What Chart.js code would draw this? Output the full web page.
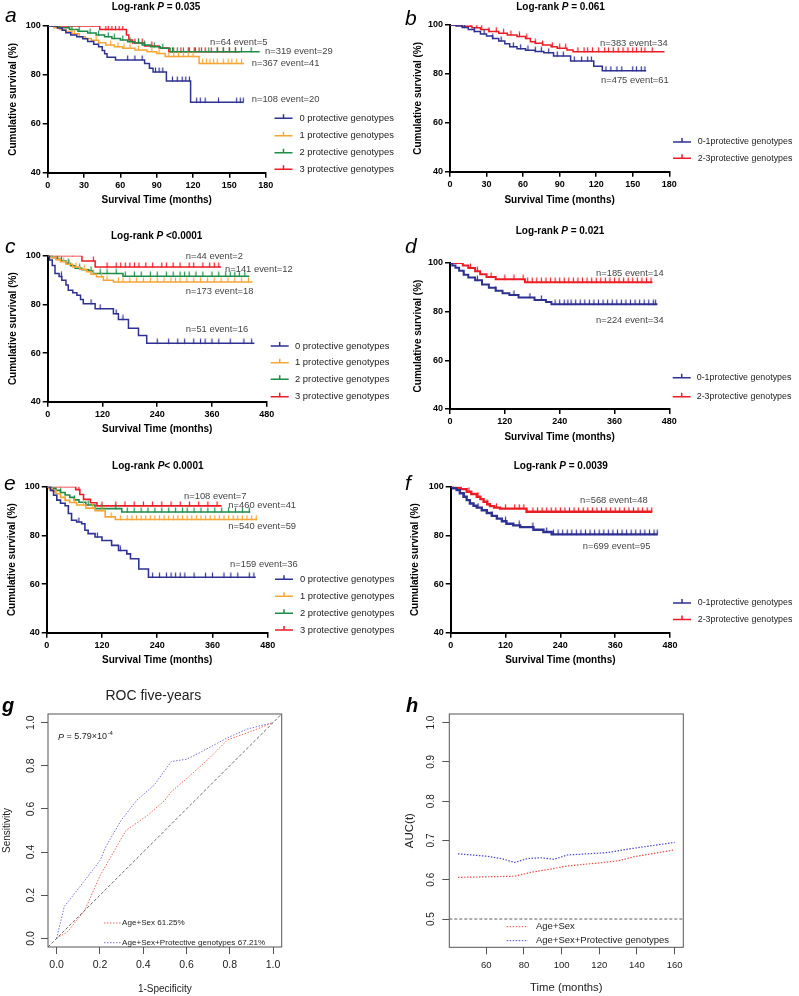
<!DOCTYPE html>
<html>
<head>
<meta charset="utf-8">
<script src="https://cdn.jsdelivr.net/npm/chart.js@4.4.1/dist/chart.umd.min.js"></script>
<style>
body { margin: 0; background: #fff; }
#page { position: relative; width: 799px; height: 996px; overflow: hidden; background: #fff; }
canvas { position: absolute; }
</style>
</head>
<body>
<div id="page">
  <canvas id="ca" width="400" height="212" style="left:0;top:0"></canvas>
  <canvas id="cb" width="399" height="212" style="left:400px;top:0"></canvas>
  <canvas id="cc" width="400" height="216" style="left:0;top:225px"></canvas>
  <canvas id="cd" width="399" height="224" style="left:400px;top:225px"></canvas>
  <canvas id="ce" width="400" height="217" style="left:0;top:455px"></canvas>
  <canvas id="cf" width="399" height="217" style="left:400px;top:455px"></canvas>
  <canvas id="cg" width="400" height="316" style="left:0;top:680px"></canvas>
  <canvas id="ch" width="399" height="316" style="left:400px;top:680px"></canvas>
</div>
<script>
// ---- legend names ----
var groups4 = ['0 protective genotypes', '1 protective genotypes', '2 protective genotypes', '3 protective genotypes'];
var groups2 = ['0-1protective genotypes', '2-3protective genotypes'];

// ---- panel a (months 0-180) ----
var aT0 = [0, 8, 12, 15, 19, 24, 29, 33, 38, 42, 45, 47, 49, 56, 80, 84, 87, 98, 118];
var aS0 = [100, 99.2, 98.3, 97.2, 96.3, 95.6, 94.8, 93.7, 92.5, 91.5, 90, 88.7, 87.2, 86.1, 84.7, 82.7, 81.2, 77.5, 68.8];
var aC0 = [66, 72, 78, 89, 92, 95, 103, 107, 111, 114, 117, 123, 126, 130, 141, 156, 159, 161.5];
var aT1 = [0, 5, 10, 15, 20, 26, 31, 36, 42, 48, 55, 62, 72, 82, 90, 97, 125];
var aS1 = [100, 99.3, 98.6, 97.7, 96.8, 95.6, 94.9, 94.2, 93.2, 92.2, 91.5, 90.9, 90.2, 89.5, 88.8, 87.5, 84.7];
var aC1 = [8, 22, 40, 52, 58, 63, 68, 75, 86, 92, 100, 104, 108, 112, 116, 120, 128, 131, 134, 137, 140, 145, 149, 152, 156, 160];
var aT2 = [0, 10, 18, 25, 33, 40, 47, 53, 60, 66, 72, 78, 85, 93, 101];
var aS2 = [100, 99.3, 98.6, 97.9, 97.1, 96.3, 95.6, 94.9, 94.3, 93.6, 93, 92.2, 91.5, 90.9, 89.5];
var aC2 = [17, 20, 26, 35, 42, 50, 55, 62, 68, 75, 80, 88, 95, 103, 107, 112, 117, 122, 127, 133, 140, 145, 150, 155, 160, 168];
var aT3 = [0, 43, 65, 67, 70, 80, 92, 100];
var aS3 = [100, 98.6, 96.3, 94.3, 93, 91.8, 91, 89.5];
var aC3 = [37, 48, 50, 53, 56, 59, 62, 72, 75, 78, 86, 104, 110, 116, 121, 125, 130, 135, 140, 145, 150, 155];
var aEnd = [161.5, 162, 175, 159];
var aLabels = ['n=108 event=20', 'n=367 event=41', 'n=319 event=29', 'n=64 event=5'];

// ---- panel b ----
var bT0 = [0, 5, 10, 15, 20, 25, 30, 35, 40, 45, 49, 55, 62, 70, 77, 85, 99, 118, 125];
var bS0 = [100, 99.6, 99, 98.2, 97.3, 96.3, 95.5, 94.5, 93.5, 92.3, 91.1, 90.3, 89.7, 89.2, 88.6, 87.3, 85.3, 83.1, 81.3];
var bC0 = [6, 12, 20, 28, 35, 42, 52, 58, 64, 70, 75, 81, 88, 93, 102, 108, 113, 116, 128, 132, 137, 141, 150, 153, 157, 160];
var bT1 = [0, 10, 18, 25, 32, 40, 47, 55, 62, 66, 70, 76, 83, 88, 96, 101];
var bS1 = [100, 99.5, 98.9, 98.2, 97.3, 96.6, 95.9, 95.3, 94.5, 93.2, 92.5, 91.8, 91.1, 90.5, 89.8, 89.1];
var bC1 = [5, 10, 17, 22, 26, 32, 38, 44, 50, 57, 63, 70, 76, 84, 90, 95, 105, 110, 113, 117, 122, 127, 130, 134, 138, 142, 146, 150, 153, 157, 160, 166];
var bEnd = [161, 176];
var bLabels = ['n=475 event=61', 'n=383 event=34'];

// ---- panel c (months 0-480) ----
var cT0 = [0, 4, 10, 16, 25, 31, 40, 45, 55, 64, 72, 78, 104, 144, 155, 177, 199, 217];
var cS0 = [100, 98.2, 96, 92.7, 91.5, 89.9, 88, 85.8, 84.8, 83.7, 82, 80.3, 78.2, 76.1, 73.8, 70.2, 67.2, 64];
var cC0 = [30, 95, 115, 150, 165, 240, 265, 285, 300, 320, 335, 345, 360, 375, 400, 430, 447];
var cT1 = [0, 8, 18, 28, 40, 55, 70, 85, 95, 107, 122, 144];
var cS1 = [100, 99.2, 98.3, 97.5, 96.5, 95.4, 94.4, 93.4, 92.4, 91.3, 89.9, 89.2];
var cC1 = [12, 25, 35, 48, 62, 80, 100, 118, 130, 155, 165, 180, 195, 210, 225, 240, 255, 270, 280, 290, 305, 320, 335, 350, 365, 380, 395, 410, 425, 440];
var cT2 = [0, 10, 20, 30, 40, 50, 60, 75, 90, 100, 165];
var cS2 = [100, 99.3, 98.5, 97.8, 96.9, 95.9, 94.8, 94.2, 93.7, 92.7, 91.6];
var cC2 = [22, 30, 45, 70, 95, 115, 130, 150, 170, 190, 205, 225, 240, 260, 275, 290, 300, 310, 325, 340, 360, 375, 390, 400, 410, 420, 432];
var cT3 = [0, 75, 104];
var cS3 = [100, 97.8, 95.4];
var cC3 = [55, 100, 130, 150, 160, 170, 180, 190, 200, 215, 230, 250, 260, 275, 290, 310, 320, 340, 355, 365, 375];
var cEnd = [453, 449, 442, 380];
var cLabels = ['n=51 event=16', 'n=173 event=18', 'n=141 event=12', 'n=44 event=2'];

// ---- panel d ----
var dT0 = [0, 5, 12, 20, 30, 40, 55, 70, 85, 100, 115, 130, 150, 185, 210, 222];
var dS0 = [100, 99, 98, 96.8, 95.2, 94, 92.9, 91.2, 89.8, 88.6, 87.6, 86.8, 85.8, 84.8, 84, 83];
var dC0 = [30, 60, 100, 140, 175, 200, 230, 240, 250, 258, 265, 275, 285, 295, 305, 315, 325, 335, 345, 355, 365, 375, 385, 395, 405, 415, 425, 435, 445, 450];
var dT1 = [0, 28, 40, 55, 66, 80, 100, 164];
var dS1 = [100, 99, 97.9, 96.6, 95.4, 94.2, 93.3, 92.1];
var dC1 = [25, 45, 60, 90, 120, 140, 160, 170, 180, 190, 200, 210, 220, 230, 240, 250, 260, 270, 280, 290, 300, 310, 320, 330, 340, 350, 360, 370, 380, 390, 400, 410, 420, 430, 440];
var dEnd = [454, 443];
var dLabels = ['n=224 event=34', 'n=185 event=14'];

// ---- panel e ----
var eT0 = [0, 8, 15, 22, 30, 40, 47, 54, 65, 76, 83, 90, 105, 120, 141, 156, 174, 182, 200, 221];
var eS0 = [100, 98.5, 96.5, 94.5, 93.2, 92.2, 89, 86.2, 85.5, 84.8, 82.1, 80.7, 79.3, 77.9, 75.9, 73.8, 72.4, 70.4, 66.2, 62.8];
var eC0 = [70, 110, 160, 230, 245, 260, 270, 280, 290, 300, 320, 345, 360, 385, 400, 415, 440, 450];
var eT1 = [0, 5, 12, 20, 30, 40, 50, 65, 85, 105, 127, 149];
var eS1 = [100, 99.2, 98.2, 97.1, 95.6, 94.4, 93.5, 92.5, 91.2, 90.1, 87.6, 86.5];
var eC1 = [20, 40, 60, 80, 100, 120, 140, 160, 175, 185, 195, 205, 215, 225, 235, 245, 255, 265, 275, 285, 295, 305, 315, 325, 335, 345, 355, 365, 375, 385, 395, 405, 415, 425, 435, 445, 455];
var eT2 = [0, 10, 20, 30, 40, 50, 60, 70, 85, 105, 163];
var eS2 = [100, 99.3, 98.5, 97.6, 96.6, 95.6, 94.6, 93.6, 92.5, 91, 89.6];
var eC2 = [30, 60, 90, 120, 150, 175, 190, 205, 220, 235, 250, 265, 280, 295, 305, 320, 335, 350, 365, 380, 395, 410, 425, 440];
var eT3 = [0, 63, 72, 80, 95, 109];
var eS3 = [100, 98.8, 96.8, 94.8, 93.4, 92.1];
var eC3 = [30, 70, 120, 150, 170, 190, 210, 230, 250, 270, 290, 310, 330, 350, 370];
var eEnd = [454, 457, 442, 380];
var eLabels = ['n=159 event=36', 'n=540 event=59', 'n=460 event=41', 'n=108 event=7'];

// ---- panel f ----
var fT0 = [0, 5, 13, 20, 28, 35, 42, 50, 57, 68, 79, 90, 101, 112, 122, 137, 152, 181, 203, 221];
var fS0 = [100, 99.3, 98.6, 97.3, 95.9, 94.5, 93.1, 92.2, 91.4, 90.3, 89.2, 88, 86.9, 85.8, 84.8, 84.1, 83.4, 82.3, 81.4, 80.4];
var fC0 = [30, 60, 90, 120, 150, 180, 210, 225, 235, 245, 255, 265, 275, 285, 295, 305, 315, 325, 335, 345, 355, 365, 375, 385, 395, 405, 415, 425, 435, 445, 452];
var fT1 = [0, 12, 22, 35, 45, 57, 65, 72, 80, 86, 95, 108, 166];
var fS1 = [100, 99.5, 99, 97.9, 97, 95.9, 94.9, 93.8, 92.8, 92, 91.4, 91, 89.7];
var fC1 = [20, 40, 60, 80, 100, 120, 140, 150, 160, 180, 190, 200, 210, 220, 230, 240, 250, 260, 270, 280, 290, 300, 310, 320, 330, 340, 350, 360, 370, 380, 390, 400, 410, 420, 430, 440];
var fEnd = [453, 441];
var fLabels = ['n=699 event=95', 'n=568 event=48'];

// ---- panel g: ROC five-years ----
var gRedX = [0, 0.05, 0.13, 0.2, 0.32, 0.42, 0.5, 0.53, 0.6, 0.7, 0.79, 0.9, 1];
var gRedY = [0, 0.03, 0.13, 0.29, 0.5, 0.57, 0.64, 0.68, 0.74, 0.83, 0.92, 0.96, 1];
var gBlueX = [0, 0.035, 0.1, 0.2, 0.23, 0.3, 0.37, 0.45, 0.53, 0.6, 0.66, 0.79, 0.88, 1];
var gBlueY = [0, 0.147, 0.23, 0.36, 0.43, 0.55, 0.64, 0.71, 0.82, 0.83, 0.86, 0.93, 0.97, 1];
var gDiag = [-0.04, 1.04];
var gTicks = [0, 0.2, 0.4, 0.6, 0.8, 1.0];
var gLegend = ['Age+Sex 61.25%', 'Age+Sex+Protective genotypes 67.21%'];

// ---- panel h: AUC(t) ----
var hRedT = [45, 75, 85, 95, 103, 120, 130, 138, 160];
var hRedV = [0.606, 0.609, 0.62, 0.628, 0.635, 0.643, 0.648, 0.658, 0.676];
var hBlueT = [45, 60, 68, 75, 82, 89, 96, 103, 124, 138, 160];
var hBlueV = [0.666, 0.66, 0.654, 0.644, 0.654, 0.656, 0.652, 0.663, 0.669, 0.68, 0.695];
var hRefT = [40.4, 164.6];
var hRefV = 0.5;
var hXTicks = [60, 80, 100, 120, 140, 160];
var hYTicks = [0.5, 0.6, 0.7, 0.8, 0.9, 1.0];
var hLegend = ['Age+Sex', 'Age+Sex+Protective genotypes'];

var FONT = "'Liberation Sans', Arial, sans-serif";
var C4 = ['#2e3192', '#f7a537', '#1c8c48', '#ed1c24'];
var C2 = ['#2e3192', '#ed1c24'];

function stepAt(T, S, t) {
    var v = S[0];
    for (var i = 0; i < T.length; i++) {
        if (T[i] <= t) v = S[i];
    }
    return v;
}

// censor mark: short tick pointing up from the curve
var tickCache = {};
function tickImg(color) {
    if (tickCache[color]) return tickCache[color];
    var c = document.createElement('canvas');
    c.width = 3; c.height = 10;
    var x = c.getContext('2d');
    x.strokeStyle = color; x.lineWidth = 1.2;
    x.beginPath(); x.moveTo(1.5, 0.5); x.lineTo(1.5, 5.5); x.stroke();
    tickCache[color] = c;
    return c;
}

function makeSeries(Ts, Ss, Cs, ends, colors, names, labels) {
    return Ts.map(function(T, i) {
        return {T: T, S: Ss[i], C: Cs[i], end: ends[i], color: colors[i], name: names[i], label: labels[i]};
    });
}

function kmDatasets(series, lw) {
    var ds = [];
    series.forEach(function(s) {
        var pts = s.T.map(function(t, i) { return {x: t, y: s.S[i]}; });
        pts.push({x: s.end, y: s.S[s.S.length - 1]});
        ds.push({data: pts, showLine: true, stepped: 'before', borderColor: s.color,
                 borderWidth: lw, pointRadius: 0, fill: false});
        ds.push({data: s.C.map(function(t) { return {x: t, y: stepAt(s.T, s.S, t)}; }),
                 showLine: false, pointStyle: tickImg(s.color), pointRadius: 3});
    });
    return ds;
}

function kmDecor(L, series) {
    return {
        id: 'kmDecor',
        afterDraw: function(chart) {
            var ctx = chart.ctx;
            ctx.save();
            ctx.translate(-L.cx, -L.cy);
            // Log-rank title with italic P
            var fonts = ['bold 10px ' + FONT, 'italic bold 10px ' + FONT, 'bold 10px ' + FONT];
            var w = L.title.map(function(p, i) { ctx.font = fonts[i]; return ctx.measureText(p).width; });
            var x = L.tx - (w[0] + w[1] + w[2]) / 2;
            ctx.fillStyle = '#000';
            ctx.textAlign = 'left';
            ctx.textBaseline = 'middle';
            L.title.forEach(function(p, i) { ctx.font = fonts[i]; ctx.fillText(p, x, L.ty); x += w[i]; });
            // panel letter
            ctx.font = 'italic 21px ' + FONT;
            ctx.textBaseline = 'alphabetic';
            ctx.fillText(L.letter, L.lx, L.ly);
            // legend + n labels
            ctx.textBaseline = 'middle';
            series.forEach(function(s, i) {
                var y = L.legY[i];
                ctx.strokeStyle = s.color;
                ctx.lineWidth = 1.5;
                ctx.beginPath();
                ctx.moveTo(L.legX, y); ctx.lineTo(L.legX + 18, y);
                ctx.moveTo(L.legX + 9, y); ctx.lineTo(L.legX + 9, y - 4);
                ctx.stroke();
                ctx.fillStyle = '#222';
                ctx.font = L.legFont + 'px ' + FONT;
                ctx.fillText(s.name, L.legT, y);
                ctx.fillStyle = '#444';
                ctx.font = '9.4px ' + FONT;
                ctx.fillText(s.label, L.labXY[i][0], L.labXY[i][1]);
            });
            ctx.restore();
        }
    };
}

function kmChart(id, L, series) {
    var yW = L.x0 - L.cx;
    var xH = L.cy + L.h - L.yBot;
    return new Chart(document.getElementById(id), {
        type: 'scatter',
        data: {datasets: kmDatasets(series, L.lw)},
        options: {
            responsive: false,
            animation: false,
            devicePixelRatio: 1,
            layout: {padding: {left: 0, top: L.yTop - L.cy, right: L.cx + L.w - L.x1, bottom: 0}},
            plugins: {legend: {display: false}, tooltip: {enabled: false}},
            scales: {
                x: {
                    type: 'linear', min: 0, max: L.xMax,
                    afterFit: function(s) { s.height = xH; },
                    ticks: {stepSize: L.xStep, color: '#000', padding: 2, maxRotation: 0,
                            font: {family: FONT, size: 9, weight: 'bold'}},
                    grid: {drawOnChartArea: false, color: '#000', lineWidth: 1.5, tickLength: 5},
                    border: {color: '#000', width: 2},
                    title: {display: true, text: 'Survival Time (months)', color: '#000',
                            font: {family: FONT, size: 10, weight: 'bold'}, padding: {top: 0, bottom: 6}}
                },
                y: {
                    type: 'linear', min: 40, max: 100,
                    afterFit: function(s) { s.width = yW; },
                    ticks: {stepSize: 20, color: '#000', padding: 2,
                            font: {family: FONT, size: 9, weight: 'bold'}},
                    grid: {drawOnChartArea: false, color: '#000', lineWidth: 1.5, tickLength: 5},
                    border: {color: '#000', width: 2},
                    title: {display: true, text: 'Cumulative survival (%)', color: '#000',
                            font: {family: FONT, size: 10, weight: 'bold'}, padding: {top: L.ytPad, bottom: 0}}
                }
            }
        },
        plugins: [kmDecor(L, series)]
    });
}

var LA = {cx: 0, cy: 0, w: 400, h: 212, x0: 47.7, x1: 265.7, yTop: 26, yBot: 172.7, xMax: 180, xStep: 30, lw: 1.5, ytPad: 7.5,
          title: ['Log-rank ', 'P', ' = 0.035'], tx: 156, ty: 7, letter: 'a', lx: 5, ly: 22,
          legX: 274.5, legT: 299.5, legY: [118.3, 135.7, 152.7, 169.3], legFont: 9.4,
          labXY: [[251.7, 99], [251.7, 63.3], [265, 51.7], [210, 42.7]]};
var LB = {cx: 400, cy: 0, w: 399, h: 212, x0: 450, x1: 669.3, yTop: 25, yBot: 171.7, xMax: 180, xStep: 30, lw: 1.5, ytPad: 12,
          title: ['Log-rank ', 'P', ' = 0.061'], tx: 560.5, ty: 7, letter: 'b', lx: 405, ly: 25,
          legX: 673, legT: 697.7, legY: [142, 158.3], legFont: 8.9,
          labXY: [[601, 80], [600, 43.3]]};
var LC = {cx: 0, cy: 225, w: 400, h: 216, x0: 47.7, x1: 266.7, yTop: 255.7, yBot: 401.7, xMax: 480, xStep: 120, lw: 1.5, ytPad: 7,
          title: ['Log-rank ', 'P', ' <0.0001'], tx: 156.7, ty: 236.7, letter: 'c', lx: 5, ly: 253,
          legX: 270.7, legT: 295, legY: [346, 362.7, 379.3, 396.7], legFont: 9.4,
          labXY: [[185.7, 329], [185.7, 291.7], [225, 269.3], [185.7, 256.7]]};
var LD = {cx: 400, cy: 225, w: 399, h: 224, x0: 450, x1: 669.3, yTop: 263, yBot: 409, xMax: 480, xStep: 120, lw: 2, ytPad: 12,
          title: ['Log-rank ', 'P', ' = 0.021'], tx: 560, ty: 231, letter: 'd', lx: 405, ly: 253,
          legX: 672.7, legT: 696.7, legY: [377.7, 396.7], legFont: 8.9,
          labXY: [[596, 320], [596, 273.3]]};
var LE = {cx: 0, cy: 455, w: 400, h: 217, x0: 46.7, x1: 267.7, yTop: 486.7, yBot: 632.7, xMax: 480, xStep: 120, lw: 1.6, ytPad: 6,
          title: ['Log-rank ', 'P', '< 0.0001'], tx: 157.8, ty: 466.7, letter: 'e', lx: 4, ly: 490,
          legX: 275, legT: 300, legY: [579.3, 596.3, 613.3, 630], legFont: 9.4,
          labXY: [[230, 564.3], [228.3, 526.7], [228.3, 505], [184, 496]]};
var LF = {cx: 400, cy: 455, w: 399, h: 217, x0: 450.7, x1: 670, yTop: 486.7, yBot: 632.7, xMax: 480, xStep: 120, lw: 2.4, ytPad: 9,
          title: ['Log-rank ', 'P', ' = 0.0039'], tx: 560.8, ty: 466.7, letter: 'f', lx: 405, ly: 490,
          legX: 673, legT: 697.7, legY: [603, 619.5], legFont: 8.9,
          labXY: [[582.7, 546.7], [580, 500]]};

kmChart('ca', LA, makeSeries([aT0, aT1, aT2, aT3], [aS0, aS1, aS2, aS3], [aC0, aC1, aC2, aC3], aEnd, C4, groups4, aLabels));
kmChart('cb', LB, makeSeries([bT0, bT1], [bS0, bS1], [bC0, bC1], bEnd, C2, groups2, bLabels));
kmChart('cc', LC, makeSeries([cT0, cT1, cT2, cT3], [cS0, cS1, cS2, cS3], [cC0, cC1, cC2, cC3], cEnd, C4, groups4, cLabels));
kmChart('cd', LD, makeSeries([dT0, dT1], [dS0, dS1], [dC0, dC1], dEnd, C2, groups2, dLabels));
kmChart('ce', LE, makeSeries([eT0, eT1, eT2, eT3], [eS0, eS1, eS2, eS3], [eC0, eC1, eC2, eC3], eEnd, C4, groups4, eLabels));
kmChart('cf', LF, makeSeries([fT0, fT1], [fS0, fS1], [fC0, fC1], fEnd, C2, groups2, fLabels));

// ---- R style panels ----
function xy(X, Y) { return X.map(function(x, i) { return {x: x, y: Y[i]}; }); }

function rDecor(L) {
    return {
        id: 'rDecor',
        afterDraw: function(chart) {
            var ctx = chart.ctx, a = chart.chartArea, ys = chart.scales.y;
            ctx.save();
            ctx.strokeStyle = '#555';
            ctx.lineWidth = 1;
            ctx.strokeRect(a.left, a.top, a.right - a.left, a.bottom - a.top);
            // rotated y tick labels
            ctx.fillStyle = '#222';
            ctx.font = L.yTickFont + 'px ' + FONT;
            ctx.textAlign = 'center';
            ctx.textBaseline = 'middle';
            L.yTicks.forEach(function(v) {
                ctx.save();
                ctx.translate(L.yLabX - L.cx, ys.getPixelForValue(v));
                ctx.rotate(-Math.PI / 2);
                ctx.fillText(v.toFixed(1), 0, 0);
                ctx.restore();
            });
            ctx.translate(-L.cx, -L.cy);
            // letter
            ctx.textAlign = 'left';
            ctx.textBaseline = 'alphabetic';
            ctx.fillStyle = '#000';
            ctx.font = 'italic bold 20px ' + FONT;
            ctx.fillText(L.letter, L.lx, L.ly);
            // legend
            ctx.textBaseline = 'middle';
            ctx.font = L.legFont + 'px ' + FONT;
            L.legText.forEach(function(t, i) {
                var y = L.legY[i];
                ctx.strokeStyle = L.legColor[i];
                ctx.lineWidth = 1;
                ctx.setLineDash([1.5, 1.5]);
                ctx.beginPath(); ctx.moveTo(L.legX, y); ctx.lineTo(L.legX + L.legLen, y); ctx.stroke();
                ctx.setLineDash([]);
                ctx.fillStyle = '#222';
                ctx.fillText(t, L.legT, y);
            });
            if (L.extra) L.extra(ctx);
            ctx.restore();
        }
    };
}

function rChart(id, L, datasets) {
    var yW = L.left - L.cx;
    var xH = L.cy + L.h - L.bottom;
    return new Chart(document.getElementById(id), {
        type: 'scatter',
        data: {datasets: datasets},
        options: {
            responsive: false,
            animation: false,
            devicePixelRatio: 1,
            layout: {padding: {left: 0, top: L.top - L.cy, right: L.cx + L.w - L.right, bottom: 0}},
            plugins: {legend: {display: false}, tooltip: {enabled: false}},
            scales: {
                x: {
                    type: 'linear', min: L.xMin, max: L.xMax,
                    afterBuildTicks: function(s) { s.ticks = L.xTicks.map(function(v) { return {value: v}; }); },
                    afterFit: function(s) { s.height = xH; },
                    ticks: {color: '#222', padding: L.xTickPad, maxRotation: 0, autoSkip: false,
                            font: {family: FONT, size: L.xTickFont},
                            callback: function(v) { return L.xFmt(v); }},
                    grid: {drawOnChartArea: false, color: '#555', lineWidth: 1, tickLength: 7},
                    border: {display: false},
                    title: {display: true, text: L.xTitle, color: '#222',
                            font: {family: FONT, size: L.xTitleFont}, padding: {top: 0, bottom: L.xTitlePad}}
                },
                y: {
                    type: 'linear', min: L.yMin, max: L.yMax,
                    afterBuildTicks: function(s) { s.ticks = L.yTicks.map(function(v) { return {value: v}; }); },
                    afterFit: function(s) { s.width = yW; },
                    ticks: {color: 'rgba(0,0,0,0)', autoSkip: false, font: {family: FONT, size: 10}},
                    grid: {drawOnChartArea: false, color: '#555', lineWidth: 1, tickLength: 7},
                    border: {display: false},
                    title: {display: true, text: L.yTitle, color: '#222',
                            font: {family: FONT, size: L.yTitleFont}, padding: {top: L.yTitlePad, bottom: 0}}
                }
            }
        },
        plugins: [rDecor(L)]
    });
}

function dotted(data, color, dash, width) {
    return {data: data, showLine: true, borderColor: color, borderWidth: width || 1,
            borderDash: dash, pointRadius: 0, fill: false};
}

var LG = {cx: 0, cy: 680, w: 400, h: 316, left: 48, right: 281.7, top: 714, bottom: 947,
          xMin: -0.04, xMax: 1.04, yMin: -0.04, yMax: 1.04, xTicks: gTicks, yTicks: gTicks,
          xFmt: function(v) { return v.toFixed(1); }, xTickFont: 10.5, xTickPad: 5, yTickFont: 10.5, yLabX: 31,
          xTitle: '1-Specificity', xTitleFont: 10, xTitlePad: 1, yTitle: 'Sensitivity', yTitleFont: 10, yTitlePad: 1.5,
          letter: 'g', lx: 2, ly: 712,
          legText: gLegend, legColor: ['#e86a5e', '#7474dc'], legX: 104, legLen: 16.7, legT: 122, legY: [923, 942.7], legFont: 8.1,
          extra: function(ctx) {
              ctx.fillStyle = '#222';
              ctx.textAlign = 'center';
              ctx.textBaseline = 'middle';
              ctx.font = '14px ' + FONT;
              ctx.fillText('ROC five-years', 153.3, 696);
              ctx.textAlign = 'left';
              ctx.font = 'italic 9px ' + FONT;
              var x = 58;
              ctx.fillText('P', x, 737);
              x += ctx.measureText('P').width;
              ctx.font = '9px ' + FONT;
              ctx.fillText(' = 5.79\u00d710', x, 737);
              x += ctx.measureText(' = 5.79\u00d710').width;
              ctx.font = '6px ' + FONT;
              ctx.fillText('-4', x + 0.5, 733);
          }};

rChart('cg', LG, [
    dotted(xy(gDiag, gDiag), '#444', [3, 2], 0.8),
    dotted(xy(gRedX, gRedY), '#e86a5e', [1.5, 1.5], 1),
    dotted(xy(gBlueX, gBlueY), '#7474dc', [1.5, 1.5], 1)
]);

var LH = {cx: 400, cy: 680, w: 399, h: 316, left: 449.3, right: 683.3, top: 714, bottom: 947.3,
          xMin: 40.4, xMax: 164.6, yMin: 0.428, yMax: 1.022, xTicks: hXTicks, yTicks: hYTicks,
          xFmt: function(v) { return String(v); }, xTickFont: 9.5, xTickPad: 5.7, yTickFont: 10, yLabX: 431,
          xTitle: 'Time (months)', xTitleFont: 11.3, xTitlePad: 1.2, yTitle: 'AUC(t)', yTitleFont: 11.5, yTitlePad: 3,
          letter: 'h', lx: 406, ly: 712,
          legText: hLegend, legColor: ['#e8504a', '#4848c8'], legX: 506.7, legLen: 21.3, legT: 536, legY: [926.7, 940.7], legFont: 9.5};

rChart('ch', LH, [
    dotted(xy(hRefT, hRefT.map(function() { return hRefV; })), '#333', [3, 2], 0.8),
    dotted(xy(hRedT, hRedV), '#e8504a', [1.5, 1.5], 1.2),
    dotted(xy(hBlueT, hBlueV), '#4848c8', [1.5, 1.5], 1.2)
]);
</script>
</body>
</html>
